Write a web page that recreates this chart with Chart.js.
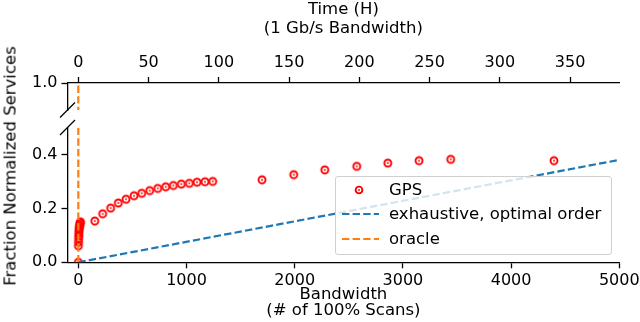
<!DOCTYPE html>
<html lang="en">
  <head>
    <meta charset="UTF-8" />
    <title>gps bandwidth</title>
    <script src="https://cdn.jsdelivr.net/npm/chart.js@4/dist/chart.umd.min.js"></script>
    <style>
      body { margin: 0; background: #fff; font-family: "DejaVu Sans", sans-serif; }
      #wrap { position: relative; width: 640px; height: 322px; overflow: hidden; }
      canvas { position: absolute; left: 0; top: 0; }
      #yTitle {
        position: absolute; left: 10px; top: 166px; white-space: nowrap;
        font-size: 16.5px; transform: translate(-50%, -50%) rotate(-90deg);
      }
      #legend {
        position: absolute; left: 335px; top: 176px; width: 275px; height: 77px;
        border: 1px solid #d0d0d0; border-radius: 3px; background: rgba(255,255,255,0.8);
      }
      #legend .row { position: absolute; left: 0; height: 20px; font-size: 16.5px; line-height: 20px; }
      #legend svg { position: absolute; left: 5px; top: 0; }
      #legend span { position: absolute; left: 53px; top: 0; white-space: nowrap; }
    </style>
  </head>
  <body>
    <div id="wrap">
      <canvas id="top" width="640" height="322"></canvas>
      <canvas id="bottom" width="640" height="322"></canvas>
      <div id="yTitle">Fraction Normalized Services</div>
      <div id="legend">
        <div class="row" style="top: 3px">
          <svg width="40" height="20"><circle cx="18" cy="10" r="3.4" fill="none" stroke="#ff0000" stroke-width="1.9" /><circle cx="18" cy="10" r="0.9" fill="#ff0000" /></svg>
          <span>GPS</span>
        </div>
        <div class="row" style="top: 27px">
          <svg width="40" height="20"><line x1="1" y1="10" x2="38" y2="10" stroke="#1f77b4" stroke-width="2.2" stroke-dasharray="7.4 3.2" /></svg>
          <span>exhaustive, optimal order</span>
        </div>
        <div class="row" style="top: 52px">
          <svg width="40" height="20"><line x1="1" y1="10" x2="38" y2="10" stroke="#ff7f0e" stroke-width="2.2" stroke-dasharray="7.4 3.2" /></svg>
          <span>oracle</span>
        </div>
      </div>
    </div>
    <script>
      // GPS results (bandwidth in # of 100% scans, fraction of services found)
      const gpsScans = [
        0, 1, 2, 3, 4, 5, 6, 8, 10, 12, 14, 17, 20,
        152, 225, 299, 370, 441, 515, 586, 660, 734, 808, 878, 952, 1026, 1097, 1171, 1242,
        1698, 1991, 2278, 2573, 2860, 3149, 3442, 4396,
      ];
      const gpsFraction = [
        0.0, 0.061, 0.075, 0.088, 0.098, 0.107, 0.115, 0.122, 0.129, 0.135, 0.141, 0.146, 0.15,
        0.153, 0.18, 0.201, 0.22, 0.234, 0.247, 0.256, 0.266, 0.274, 0.28, 0.285, 0.29, 0.293, 0.297, 0.299, 0.3,
        0.306, 0.325, 0.343, 0.356, 0.368, 0.377, 0.382, 0.377,
      ];
      const exhaustiveScans = [0, 5000];
      const exhaustiveFraction = [0, 0.38];
      const oracleScans = [0, 0];
      const oracleFraction = [0, 1];

      const scanTicks = [0, 1000, 2000, 3000, 4000, 5000];
      const hourTicks = [0, 50, 100, 150, 200, 250, 300, 350];
      const lowerTicks = [0, 0.2, 0.4];
      const upperTicks = [1.0];

      const X_MIN = -100;
      const X_MAX = 5000;
      const HOURS_PER_SCAN = 0.077; // 1 Gb/s

      const RED = "#ff0000";
      const BLUE = "#1f77b4";
      const ORANGE = "#ff7f0e";
      const DASH = [7.4, 3.2];

      Chart.defaults.font.family = "'DejaVu Sans', sans-serif";
      Chart.defaults.font.size = 16;
      Chart.defaults.color = "#000";

      const pts = (xs, ys) => xs.map((x, i) => ({ x, y: ys[i] }));

      // ring marker with a dot in the middle
      const marker = document.createElement("canvas");
      marker.width = 12;
      marker.height = 12;
      {
        const c = marker.getContext("2d");
        c.strokeStyle = RED;
        c.lineWidth = 1.9;
        c.beginPath();
        c.arc(6, 6, 3.5, 0, Math.PI * 2);
        c.stroke();
        c.fillStyle = RED;
        c.beginPath();
        c.arc(6, 6, 0.9, 0, Math.PI * 2);
        c.fill();
      }

      // little diagonal marks where the y axis is broken
      const breakMarks = {
        id: "breakMarks",
        afterDraw(chart, args, opts) {
          const { ctx, chartArea } = chart;
          const x = chartArea.left;
          const y = opts.edge === "bottom" ? chartArea.bottom : chartArea.top;
          ctx.save();
          ctx.strokeStyle = "#000";
          ctx.lineWidth = 1.3;
          ctx.beginPath();
          ctx.moveTo(x - 7.5, y + 7.5);
          ctx.lineTo(x + 7.5, y - 7.5);
          ctx.stroke();
          ctx.restore();
        },
      };

      const axisLine = { display: true, color: "#000", width: 1.3 };
      const tickMarks = {
        drawOnChartArea: false,
        drawTicks: true,
        tickLength: 6,
        tickColor: "#000",
        tickWidth: 1.3,
      };
      const fixTicks = (values) => (scale) => {
        scale.ticks = values.map((value) => ({ value }));
      };
      const fixWidth = (w) => (scale) => {
        scale.width = w;
        scale.paddingTop = 0;
        scale.paddingBottom = 0;
      };
      const fixHeight = (h) => (scale) => {
        scale.height = h;
        scale.paddingLeft = 0;
        scale.paddingRight = 0;
      };
      const plain = (v) => String(v);
      const oneDecimal = (v) => v.toFixed(1);

      const baseOptions = {
        responsive: false,
        animation: false,
        devicePixelRatio: 1,
        events: [],
      };

      // upper panel: only the 1.0 level, and the time axis on top
      new Chart(document.getElementById("top"), {
        type: "scatter",
        data: {
          datasets: [
            {
              label: "oracle",
              data: pts(oracleScans.map((s) => s * HOURS_PER_SCAN), oracleFraction),
              showLine: true,
              borderColor: ORANGE,
              borderWidth: 2.2,
              borderDash: DASH,
              pointRadius: 0,
            },
          ],
        },
        options: {
          ...baseOptions,
          layout: { padding: { left: 0, right: 20.7, top: 0, bottom: 212 } },
          plugins: { legend: { display: false }, tooltip: { enabled: false }, breakMarks: { edge: "bottom" } },
          scales: {
            x: {
              type: "linear",
              position: "top",
              min: X_MIN * HOURS_PER_SCAN,
              max: X_MAX * HOURS_PER_SCAN,
              border: axisLine,
              grid: tickMarks,
              ticks: { padding: 5, maxRotation: 0, callback: plain },
              afterBuildTicks: fixTicks(hourTicks),
              afterFit: fixHeight(83),
              title: {
                display: true,
                text: ["Time (H)", "(1 Gb/s Bandwidth)"],
                font: { size: 16.5, lineHeight: 1.15 },
                padding: { top: 0, bottom: 0 },
              },
            },
            y: {
              min: 0.95,
              max: 1.0,
              border: axisLine,
              grid: tickMarks,
              ticks: { padding: 4, callback: oneDecimal },
              afterBuildTicks: fixTicks(upperTicks),
              afterFit: fixWidth(67.5),
            },
          },
        },
        plugins: [breakMarks],
      });

      // lower panel: the data
      new Chart(document.getElementById("bottom"), {
        type: "scatter",
        data: {
          datasets: [
            {
              label: "oracle",
              data: pts(oracleScans, oracleFraction),
              showLine: true,
              borderColor: ORANGE,
              borderWidth: 2.2,
              borderDash: DASH,
              pointRadius: 0,
            },
            {
              label: "exhaustive, optimal order",
              data: pts(exhaustiveScans, exhaustiveFraction),
              showLine: true,
              borderColor: BLUE,
              borderWidth: 2.2,
              borderDash: DASH,
              pointRadius: 0,
            },
            {
              label: "GPS",
              data: pts(gpsScans, gpsFraction),
              pointStyle: marker,
              pointRadius: 4,
            },
          ],
        },
        options: {
          ...baseOptions,
          layout: { padding: { left: 0, right: 20.7, top: 127.5, bottom: 0 } },
          plugins: { legend: { display: false }, tooltip: { enabled: false }, breakMarks: { edge: "top" } },
          scales: {
            x: {
              type: "linear",
              min: X_MIN,
              max: X_MAX,
              border: axisLine,
              grid: tickMarks,
              ticks: { padding: 3, maxRotation: 0, callback: plain },
              afterBuildTicks: fixTicks(scanTicks),
              afterFit: fixHeight(59.7),
              title: {
                display: true,
                text: ["Bandwidth", "(# of 100% Scans)"],
                font: { size: 16.5, lineHeight: 0.97 },
                padding: { top: 0, bottom: 3 },
              },
            },
            y: {
              min: 0,
              max: 0.5,
              border: axisLine,
              grid: tickMarks,
              ticks: { padding: 4, callback: oneDecimal },
              afterBuildTicks: fixTicks(lowerTicks),
              afterFit: fixWidth(67.5),
            },
          },
        },
        plugins: [breakMarks],
      });
    </script>
  </body>
</html>
